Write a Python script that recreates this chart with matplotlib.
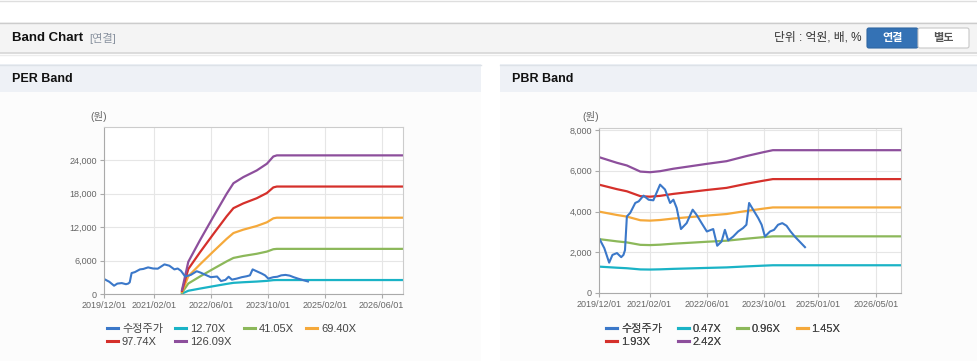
import pandas as pd
import matplotlib
matplotlib.use("Agg")
import matplotlib.pyplot as plt
import matplotlib.patches as mpatches
from matplotlib.ticker import FuncFormatter

plt.rcParams['font.family'] = ['Liberation Sans', 'Noto Sans CJK KR']

# --- data ---
price_dates = ["2019-12-01", "2020-01-15", "2020-02-25", "2020-03-24", "2020-05-01", "2020-06-06",
               "2020-06-25", "2020-07-08", "2020-07-24", "2020-08-21", "2020-10-03", "2020-11-01",
               "2020-12-12", "2021-01-24", "2021-03-05", "2021-05-01", "2021-06-12", "2021-07-25",
               "2021-08-22", "2021-09-19", "2021-10-25", "2021-12-12", "2022-02-01", "2022-03-06",
               "2022-04-18", "2022-06-01", "2022-07-25", "2022-08-28", "2022-10-04", "2022-11-01",
               "2022-11-29", "2023-01-10", "2023-02-21", "2023-04-04", "2023-05-02", "2023-05-25",
               "2023-06-28", "2023-08-10", "2023-09-08", "2023-10-06", "2023-11-18", "2023-12-22",
               "2024-01-25", "2024-03-01", "2024-04-06", "2024-05-10", "2024-06-15", "2024-09-09"]
price = [2700, 2200, 1490, 1870, 1960, 1760,
         1870, 2100, 3760, 3930, 4420, 4500,
         4780, 4580, 4550, 5320, 5080, 4420,
         4580, 4170, 3140, 3430, 4090, 3840,
         3430, 3020, 3140, 2320, 2530, 3100,
         2580, 2770, 3020, 3190, 3350, 4420,
         4090, 3680, 3350, 2770, 3020, 3100,
         3350, 3430, 3300, 3020, 2770, 2250]

eps_dates = ["2021-09-28", "2021-11-21", "2022-03-01", "2022-06-22", "2022-10-15", "2022-12-12",
             "2023-03-06", "2023-06-29", "2023-09-24", "2023-11-18", "2023-12-18", "2026-12-01"]
eps = [5.7, 45.9, 76.7, 109.8, 142.8, 157.8, 166.5, 176.0, 185.6, 195.9, 197.5, 197.5]
per_mult = [12.70, 41.05, 69.40, 97.74, 126.09]

bps_dates = ["2019-12-01", "2020-05-01", "2020-07-24", "2020-11-15", "2021-02-05", "2021-05-01",
             "2021-08-22", "2022-01-10", "2022-06-01", "2022-11-15", "2023-05-01", "2023-09-20",
             "2023-12-12", "2026-12-01"]
bps = [2756, 2641, 2587, 2463, 2450, 2471, 2521, 2570, 2620, 2674, 2777, 2855, 2897, 2897]
pbr_mult = [0.47, 0.96, 1.45, 1.93, 2.42]

per_ticks = ["2019/12/01", "2021/02/01", "2022/06/01", "2023/10/01", "2025/02/01", "2026/06/01"]
pbr_ticks = ["2019/12/01", "2021/02/01", "2022/06/01", "2023/10/01", "2025/01/01", "2026/05/01"]

price_color = "#3b78c9"
band_colors = ["#1ab3c6", "#8cb85a", "#f5a93b", "#d5302b", "#8d4f9c"]

W, H = 978, 361
fig = plt.figure(figsize=(W / 100, H / 100), dpi=100)
fig.patch.set_facecolor("white")

# background layer in pixel coordinates
bg = fig.add_axes([0, 0, 1, 1], zorder=0)
bg.set_xlim(0, W)
bg.set_ylim(H, 0)
bg.axis("off")

def rect(x0, y0, x1, y1, fc, ec="none", lw=0):
    bg.add_patch(mpatches.Rectangle((x0, y0), x1 - x0, y1 - y0, facecolor=fc, edgecolor=ec, linewidth=lw))

bold_font = ["Liberation Sans", "Noto Sans CJK KR"]

bg.plot([0, W], [0.5, 0.5], color="#dedede", lw=1)
rect(0, 22, W, 53, "#f4f4f4")
bg.plot([0, W], [22.5, 22.5], color="#cccccc", lw=1)
bg.plot([0, W], [53, 53], color="#d6d6d6", lw=1.2)
bg.plot([0, W], [54.5, 54.5], color="#ececec", lw=1)
bg.text(12, 38, "Band Chart", fontsize=9.5, fontweight="bold", color="#111111", va="center",
        family=bold_font)
bg.text(89, 38, "[연결]", fontsize=8, color="#8a93a0", va="center")
bg.text(861, 38, "단위 : 억원, 배, %", fontsize=8.5, color="#333333", va="center", ha="right")
bg.add_patch(mpatches.FancyBboxPatch((867, 28), 51, 20, boxstyle="round,pad=0,rounding_size=2",
                                     facecolor="#3472b5", edgecolor="#2f66a3", lw=0.8))
bg.add_patch(mpatches.FancyBboxPatch((918, 28), 51, 20, boxstyle="round,pad=0,rounding_size=2",
                                     facecolor="white", edgecolor="#c8c8c8", lw=0.8))
bg.text(892.5, 38, "연결", fontsize=8, fontweight="bold", color="white", va="center", ha="center")
bg.text(943.5, 38, "별도", fontsize=8, fontweight="bold", color="#555555", va="center", ha="center")

for x0, x1, title in [(0, 481, "PER Band"), (500, W, "PBR Band")]:
    rect(x0, 92, x1, H, "#fcfcfc")
    rect(x0, 64, x1, 92, "#eef1f6")
    bg.plot([x0, x1], [64.5, 64.5], color="#dde2e8", lw=1)
    bg.text(x0 + 12, 79, title, fontsize=9, fontweight="bold", color="#111111", va="center",
            family=bold_font)

bg.text(90, 117, "(원)", fontsize=7.5, color="#666666", va="center")
bg.text(582, 117, "(원)", fontsize=7.5, color="#666666", va="center")


def px_axes(x0, y0, x1, y1):
    return fig.add_axes([x0 / W, (H - y1) / H, (x1 - x0) / W, (y1 - y0) / H], zorder=2)


def style(ax, ymax, ytop, ystep, ticks):
    ax.set_facecolor("white")
    ax.set_xlim(pd.Timestamp("2019-12-01"), pd.Timestamp("2026-12-01"))
    ax.set_ylim(0, ymax)
    ax.set_yticks(range(0, ytop + 1, ystep))
    ax.yaxis.set_major_formatter(FuncFormatter(lambda v, p: f"{int(v):,}"))
    ax.set_xticks([pd.Timestamp(t.replace("/", "-")) for t in ticks])
    ax.set_xticklabels(ticks)
    ax.grid(True, color="#e6e6e6", lw=0.8)
    ax.set_axisbelow(True)
    ax.tick_params(labelsize=6.5, labelcolor="#666666", color="#aaaaaa", length=3, width=0.8, pad=2)
    for s in ["left", "bottom"]:
        ax.spines[s].set_color("#aaaaaa")
    for s in ["top", "right"]:
        ax.spines[s].set_color("#cccccc")


def draw(ax, base_dates, base, mults, fmt):
    handles = []
    d = pd.to_datetime(base_dates)
    for m, c in zip(mults, band_colors):
        h, = ax.plot(d, [m * b for b in base], color=c, lw=1.6, label=fmt.format(m))
        handles.append(h)
    hp, = ax.plot(pd.to_datetime(price_dates), price, color=price_color, lw=1.5, label="수정주가")
    return [hp] + handles


ax1 = px_axes(104, 127, 403, 294)
style(ax1, 30000, 24000, 6000, per_ticks)
h1 = draw(ax1, eps_dates, eps, per_mult, "{:.2f}X")

ax2 = px_axes(599, 128, 901, 293)
style(ax2, 8100, 8000, 2000, pbr_ticks)
h2 = draw(ax2, bps_dates, bps, pbr_mult, "{:.2f}X")

for hs, x, cs in [(h1, 107, 1.1), (h2, 606, 1.4)]:
    order = [hs[0], hs[4], hs[1], hs[5], hs[2], hs[3]]
    leg = bg.legend(order, [h.get_label() for h in order], loc="upper left",
                    bbox_to_anchor=(x, 324), bbox_transform=bg.transData, ncol=4,
                    frameon=False, fontsize=8, handlelength=1.0, handletextpad=0.35,
                    columnspacing=cs, labelspacing=0.3, borderpad=0, borderaxespad=0)
    for t in leg.get_texts():
        t.set_color("#444444")
    for l in leg.get_lines():
        l.set_linewidth(2.2)
    bg.add_artist(leg)

fig.savefig("out.png", dpi=100, facecolor=fig.get_facecolor())
